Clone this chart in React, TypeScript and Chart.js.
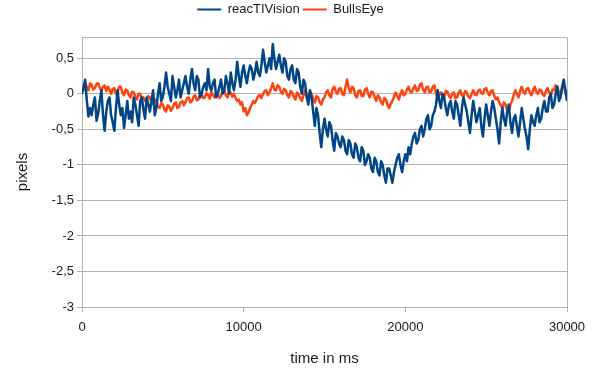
import { useEffect, useRef } from 'react';
import { Chart, registerables } from 'chart.js';

Chart.register(...registerables);

// sampling interval of both recordings (ms)
const SAMPLE_MS = 100;

// reacTIVision deviation in pixels, one value per sample
const REACTIVISION = [
  0.0, 0.1, 0.2, -0.1, -0.32, -0.2, -0.3, -0.15, -0.05, -0.38, -0.28, -0.1, 0.05, -0.3, -0.52, -0.25, -0.1, -0.05, -0.3, -0.4,
  -0.52, -0.2, 0.05, -0.15, -0.3, -0.2, -0.48, -0.3, -0.1, -0.35, -0.25, -0.4, -0.05, -0.15, -0.3, -0.45, -0.1, -0.05, -0.22, -0.35,
  -0.05, -0.15, -0.25, -0.1, 0.05, -0.3, -0.2, 0.0, 0.15, -0.1, -0.05, 0.1, 0.3, 0.1, 0.0, -0.1, 0.25, 0.1, -0.05, 0.05,
  0.2, -0.05, 0.05, 0.15, 0.25, 0.1, 0.0, 0.2, 0.35, 0.15, 0.05, 0.25, 0.2, -0.05, 0.0, 0.1, 0.15, 0.05, 0.35, 0.1,
  0.05, 0.15, 0.2, -0.05, 0.0, 0.1, 0.2, 0.0, 0.05, 0.25, 0.15, 0.0, 0.3, 0.15, 0.05, 0.2, 0.45, 0.25, 0.1, 0.3,
  0.4, 0.25, 0.15, 0.3, 0.4, 0.35, 0.2, 0.3, 0.45, 0.3, 0.25, 0.4, 0.62, 0.45, 0.3, 0.4, 0.5, 0.35, 0.7, 0.5,
  0.35, 0.45, 0.55, 0.4, 0.3, 0.5, 0.45, 0.25, 0.2, 0.35, 0.4, 0.2, 0.15, 0.35, 0.3, 0.1, 0.0, 0.2, 0.15, -0.05,
  -0.15, 0.05, -0.05, -0.25, -0.45, -0.2, -0.3, -0.55, -0.75, -0.5, -0.35, -0.5, -0.6, -0.4, -0.45, -0.65, -0.8, -0.55, -0.6, -0.7,
  -0.75, -0.6, -0.65, -0.8, -0.85, -0.65, -0.7, -0.85, -0.9, -0.7, -0.75, -0.9, -0.95, -0.75, -0.8, -1.0, -0.95, -0.85, -0.9, -1.05,
  -1.1, -0.9, -0.95, -1.1, -1.15, -0.95, -1.0, -1.15, -1.25, -1.05, -1.05, -1.15, -1.25, -1.1, -1.0, -0.9, -0.85, -1.0, -1.1, -0.95,
  -0.85, -0.95, -0.75, -0.85, -0.7, -0.6, -0.55, -0.7, -0.65, -0.5, -0.45, -0.6, -0.5, -0.35, -0.3, -0.5, -0.45, -0.3, -0.25, -0.15,
  0.05, -0.1, -0.2, 0.0, -0.05, -0.2, -0.3, -0.15, -0.1, -0.25, -0.35, -0.1, -0.15, -0.3, -0.45, -0.2, -0.05, -0.15, -0.25, -0.4,
  -0.55, -0.3, -0.1, -0.25, -0.4, -0.3, -0.2, -0.45, -0.6, -0.35, -0.15, -0.3, -0.45, -0.25, -0.1, -0.2, -0.35, -0.5, -0.7, -0.4,
  -0.2, -0.35, -0.45, -0.25, -0.15, -0.4, -0.55, -0.35, -0.3, -0.45, -0.6, -0.4, -0.2, -0.35, -0.5, -0.6, -0.78, -0.5, -0.3, -0.4,
  -0.45, -0.3, -0.2, -0.4, -0.35, -0.2, -0.1, -0.25, -0.25, -0.05, 0.0, -0.2, -0.15, 0.0, 0.1, -0.1, -0.05, 0.1, 0.2, 0.05,
  -0.1,
];

// BullsEye deviation in pixels, one value per sample
const BULLSEYE = [
  0.1, 0.05, 0.15, 0.1, 0.05, 0.15, 0.12, 0.06, 0.08, 0.14, 0.15, 0.08, 0.05, 0.1, 0.12, 0.04, 0.1, 0.06, 0.0, 0.07,
  0.08, 0.0, 0.03, 0.1, 0.1, 0.02, -0.02, 0.06, 0.05, -0.02, -0.05, 0.03, 0.02, -0.04, -0.08, 0.0, 0.0, -0.07, -0.05, -0.1,
  -0.1, -0.03, -0.05, -0.12, -0.15, -0.08, -0.1, -0.18, -0.2, -0.13, -0.15, -0.22, -0.25, -0.16, -0.18, -0.24, -0.2, -0.14, -0.12, -0.2,
  -0.18, -0.12, -0.1, -0.16, -0.12, -0.06, -0.05, -0.12, -0.1, -0.04, -0.02, -0.09, -0.08, -0.02, 0.0, -0.06, -0.05, 0.01, -0.02, -0.07,
  0.03, -0.02, -0.05, 0.02, 0.0, -0.06, -0.03, 0.03, 0.05, -0.02, -0.05, 0.02, 0.02, -0.04, 0.0, -0.06, -0.1, -0.08, -0.15, -0.12,
  -0.25, -0.2, -0.3, -0.26, -0.2, -0.15, -0.1, -0.13, -0.08, -0.03, -0.02, -0.06, 0.0, 0.04, 0.05, -0.02, 0.02, 0.08, 0.15, 0.06,
  0.05, 0.12, 0.1, 0.03, 0.0, 0.07, 0.05, -0.02, -0.05, 0.04, 0.02, -0.04, -0.08, 0.02, 0.0, -0.06, -0.1, -0.02, 0.05, -0.03,
  -0.05, 0.03, 0.0, -0.08, -0.12, -0.03, -0.05, -0.12, -0.15, -0.08, -0.05, 0.02, 0.05, -0.02, -0.05, 0.06, 0.1, 0.03, 0.0, 0.07,
  0.08, 0.0, -0.02, 0.1, 0.2, 0.08, 0.02, 0.1, 0.08, -0.02, -0.05, 0.04, 0.05, -0.03, -0.03, 0.06, 0.08, 0.0, -0.05, 0.03,
  0.02, -0.04, -0.1, -0.02, -0.05, -0.12, -0.15, -0.06, -0.08, -0.16, -0.2, -0.14, -0.1, -0.04, 0.02, -0.03, -0.08, 0.0, 0.05, -0.02,
  0.0, 0.06, 0.1, 0.03, 0.02, 0.08, 0.12, 0.04, 0.05, 0.13, 0.15, 0.06, 0.02, 0.09, 0.1, 0.02, 0.03, 0.1, 0.12, 0.0,
  -0.05, -0.01, 0.02, -0.04, -0.05, 0.04, 0.03, -0.03, -0.06, 0.0, 0.02, -0.06, -0.05, 0.02, 0.05, -0.02, -0.03, 0.04, 0.02, -0.04,
  -0.06, 0.0, 0.05, -0.01, -0.02, 0.04, 0.06, 0.01, 0.0, 0.07, 0.08, 0.02, -0.02, 0.04, 0.05, -0.03, -0.08, -0.05, -0.12, -0.16,
  -0.2, -0.12, -0.15, -0.22, -0.25, -0.15, -0.1, -0.02, 0.05, 0.0, -0.05, 0.04, 0.1, 0.03, 0.0, 0.07, 0.08, 0.02, -0.02, 0.05,
  0.1, 0.03, 0.0, 0.06, 0.05, -0.01, -0.03, 0.04, 0.08, 0.02, -0.02, 0.06, 0.05, 0.12, 0.1, 0.02, 0.0, 0.08, 0.12, 0.02,
  0.05,
];

const SERIES_NAMES = ['reacTIVision', 'BullsEye'];
const X_TICKS = [0, 10000, 20000, 30000];
const Y_TICKS = [-3, -2.5, -2, -1.5, -1, -0.5, 0, 0.5];
const X_MIN = 0;
const X_MAX = 30000;
const Y_MIN = -3;
const Y_MAX = 0.8;

const FONT = "'Liberation Sans', Arial, sans-serif";
const GRID = '#b3b3b3';
const TEXT = '#1a1a1a';
const BLUE = '#004586';
const ORANGE = '#ff420e';

const toPoints = (vals: number[]) => vals.map((v, i) => ({ x: i * SAMPLE_MS, y: v }));

const framePlugin = {
  id: 'frame',
  beforeDatasetsDraw(chart: any) {
    const { ctx, chartArea } = chart;
    ctx.save();
    ctx.strokeStyle = GRID;
    ctx.lineWidth = 1;
    ctx.beginPath();
    ctx.moveTo(chartArea.left, chartArea.top + 0.5);
    ctx.lineTo(chartArea.right + 0.5, chartArea.top + 0.5);
    ctx.lineTo(chartArea.right + 0.5, chartArea.bottom);
    ctx.stroke();
    ctx.restore();
  },
};

// adds space between the legend and the plot area
const legendSpacer = {
  id: 'legendSpacer',
  beforeInit(chart: any) {
    const legend = chart.legend;
    if (!legend) return;
    const origFit = legend.fit;
    legend.fit = function () {
      origFit.call(this);
      this.height += 11;
    };
  },
};

export default function App() {
  const ref = useRef<HTMLCanvasElement | null>(null);

  useEffect(() => {
    if (!ref.current) return;
    const common = {
      borderWidth: 2.5,
      pointRadius: 0,
      pointStyle: 'line',
      tension: 0,
      borderJoinStyle: 'round',
    };
    const chart = new Chart(ref.current, {
      type: 'line',
      data: {
        datasets: [
          {
            label: SERIES_NAMES[0],
            data: toPoints(REACTIVISION),
            borderColor: BLUE,
            backgroundColor: BLUE,
            ...common,
          },
          {
            label: SERIES_NAMES[1],
            data: toPoints(BULLSEYE),
            borderColor: ORANGE,
            backgroundColor: ORANGE,
            ...common,
          },
        ],
      },
      options: {
        animation: false,
        responsive: false,
        layout: { padding: { top: 0, right: 33, bottom: 0, left: 14 } },
        plugins: {
          legend: {
            position: 'top',
            labels: {
              usePointStyle: true,
              pointStyleWidth: 24,
              padding: 3,
              color: TEXT,
              font: { family: FONT, size: 13 },
              generateLabels: (c: any) =>
                Chart.defaults.plugins.legend.labels
                  .generateLabels(c)
                  .map((l: any) => ({ ...l, lineWidth: 2 })),
            },
          },
          tooltip: { enabled: false },
        },
        scales: {
          x: {
            type: 'linear',
            min: X_MIN,
            max: X_MAX,
            afterBuildTicks: (s: any) => {
              s.ticks = X_TICKS.map((v) => ({ value: v }));
            },
            afterFit: (s: any) => {
              s.height = 63;
            },
            grid: { color: 'transparent', tickColor: GRID, tickLength: 5, drawTicks: true },
            border: { display: true, color: GRID },
            ticks: {
              color: TEXT,
              font: { family: FONT, size: 13 },
              padding: 8,
              maxRotation: 0,
              callback: (v: any) => String(v),
            },
            title: {
              display: true,
              text: 'time in ms',
              color: TEXT,
              font: { family: FONT, size: 15 },
              padding: { top: 0, bottom: 2 },
            },
          },
          y: {
            type: 'linear',
            min: Y_MIN,
            max: Y_MAX,
            afterBuildTicks: (s: any) => {
              s.ticks = Y_TICKS.map((v) => ({ value: v }));
            },
            afterFit: (s: any) => {
              s.width = 68;
            },
            grid: { color: GRID, tickColor: GRID, tickLength: 5 },
            border: { display: true, color: GRID },
            ticks: {
              color: TEXT,
              font: { family: FONT, size: 13 },
              padding: 3,
              callback: (v: any) => String(v).replace('.', ','),
            },
            title: {
              display: true,
              text: 'pixels',
              color: TEXT,
              font: { family: FONT, size: 15 },
              padding: { top: 0, bottom: 0 },
            },
          },
        },
      },
      plugins: [framePlugin, legendSpacer],
    } as any);
    return () => chart.destroy();
  }, []);

  return (
    <div style={{ position: 'fixed', left: 0, top: 0, width: 600, height: 370, background: '#fff' }}>
      <canvas ref={ref} width={600} height={370} style={{ width: 600, height: 370, display: 'block' }} />
    </div>
  );
}
